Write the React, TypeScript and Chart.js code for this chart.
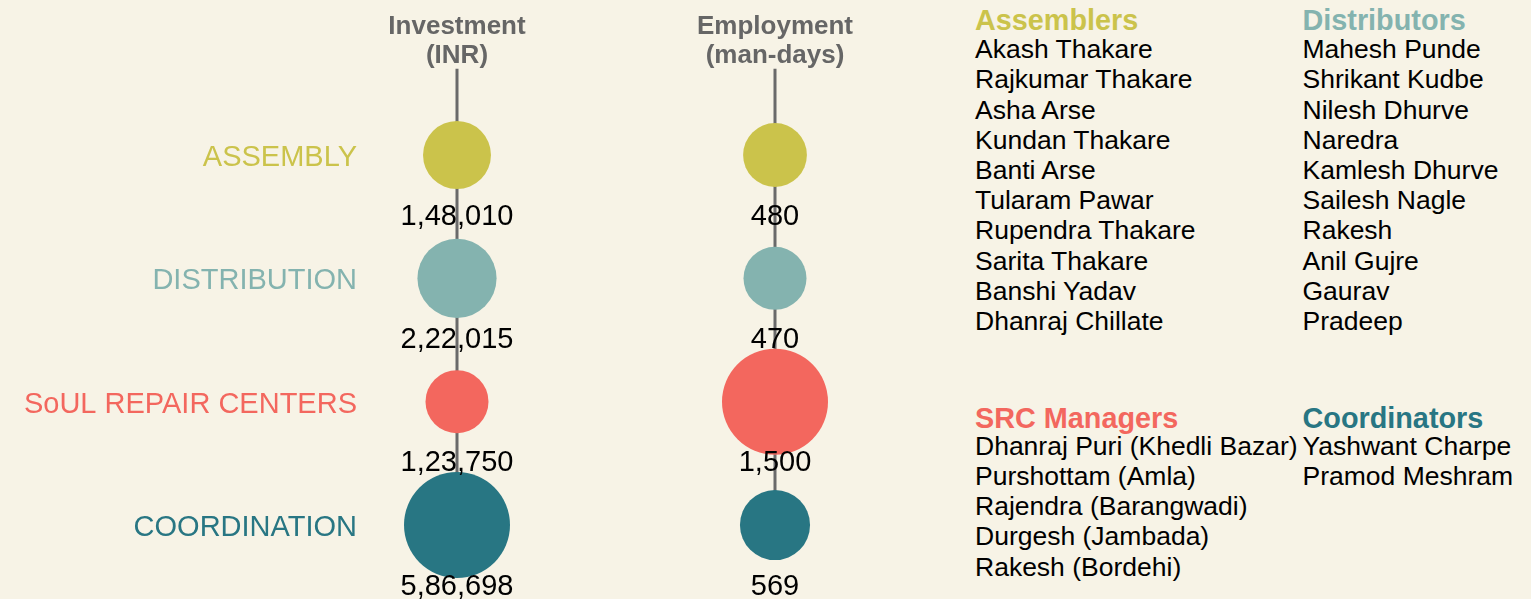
import React, { useEffect, useRef } from "react";
import { Chart, registerables } from "chart.js";

Chart.register(...registerables);

// ---------- data ----------
const rowLabels = ["ASSEMBLY", "DISTRIBUTION", "SoUL REPAIR CENTERS", "COORDINATION"];
const rowColors = ["#CBC34B", "#84B3AF", "#F3675E", "#287683"];
const columnTitles = [
  ["Investment", "(INR)"],
  ["Employment", "(man-days)"],
];
const investment = [148010, 222015, 123750, 586698];
const employment = [480, 470, 1500, 569];

const assemblers = [
  "Akash Thakare",
  "Rajkumar Thakare",
  "Asha Arse",
  "Kundan Thakare",
  "Banti Arse",
  "Tularam Pawar",
  "Rupendra Thakare",
  "Sarita Thakare",
  "Banshi Yadav",
  "Dhanraj Chillate",
];
const distributors = [
  "Mahesh Punde",
  "Shrikant Kudbe",
  "Nilesh Dhurve",
  "Naredra",
  "Kamlesh Dhurve",
  "Sailesh Nagle",
  "Rakesh",
  "Anil Gujre",
  "Gaurav",
  "Pradeep",
];
const srcManagers = [
  "Dhanraj Puri (Khedli Bazar)",
  "Purshottam (Amla)",
  "Rajendra (Barangwadi)",
  "Durgesh (Jambada)",
  "Rakesh (Bordehi)",
];
const coordinators = ["Yashwant Charpe", "Pramod Meshram"];

// ---------- helpers ----------
const FONT = "'Liberation Sans', Arial, Helvetica, sans-serif";
const BG = "#F7F3E6";

function formatIndian(v: number): string {
  const s = String(Math.round(v));
  if (s.length <= 3) return s;
  const last3 = s.slice(-3);
  let rest = s.slice(0, -3);
  const parts: string[] = [];
  while (rest.length > 2) {
    parts.unshift(rest.slice(-2));
    rest = rest.slice(0, -2);
  }
  if (rest.length) parts.unshift(rest);
  return parts.join(",") + "," + last3;
}

// log-scaled bubble radius within each column
function radiusFor(v: number, all: number[]): number {
  const lo = Math.log(Math.min(...all));
  const hi = Math.log(Math.max(...all));
  return 31.5 + 21.5 * ((Math.log(v) - lo) / (hi - lo));
}

const columns = [investment, employment];

const decorPlugin = {
  id: "decor",
  beforeDatasetsDraw(chart: any) {
    const { ctx, scales } = chart;
    const x = scales.x;
    const y = scales.y;
    ctx.save();
    ctx.strokeStyle = "#6A6A6A";
    ctx.lineWidth = 3;
    columns.forEach((_, c) => {
      const px = x.getPixelForValue(c);
      ctx.beginPath();
      ctx.moveTo(px, y.getPixelForValue(-0.7));
      ctx.lineTo(px, y.getPixelForValue(rowLabels.length - 1));
      ctx.stroke();
    });
    ctx.restore();
  },
  afterDatasetsDraw(chart: any) {
    const { ctx, scales, chartArea } = chart;
    const x = scales.x;
    const y = scales.y;
    ctx.save();
    // column titles
    ctx.fillStyle = "#666666";
    ctx.font = `bold 26px ${FONT}`;
    ctx.textAlign = "center";
    ctx.textBaseline = "middle";
    columnTitles.forEach((lines, c) => {
      const px = x.getPixelForValue(c);
      lines.forEach((t, i) => {
        ctx.fillText(t, px, chartArea.top - 4.5 + i * 29);
      });
    });
    // row labels
    ctx.font = `29px ${FONT}`;
    ctx.textAlign = "right";
    rowLabels.forEach((lab, r) => {
      ctx.fillStyle = rowColors[r];
      ctx.fillText(lab, x.getPixelForValue(0) - 100, y.getPixelForValue(r) + 3);
    });
    // value labels
    ctx.fillStyle = "#000000";
    ctx.textAlign = "center";
    columns.forEach((vals, c) => {
      const px = x.getPixelForValue(c);
      vals.forEach((v, r) => {
        ctx.fillText(formatIndian(v), px, y.getPixelForValue(r + 0.5));
      });
    });
    ctx.restore();
  },
};

type Block = { title: string; color: string; names: string[]; left: number; headY: number; firstY: number };

export default function App() {
  const canvasRef = useRef<HTMLCanvasElement | null>(null);

  useEffect(() => {
    document.body.style.margin = "0";
    document.body.style.background = BG;
    const canvas = canvasRef.current;
    if (!canvas) return;
    const chart = new Chart(canvas, {
      type: "bubble",
      data: {
        datasets: [
          {
            label: "Investment (INR)",
            data: investment.map((v, i) => ({ x: 0, y: i, r: radiusFor(v, investment) })),
            backgroundColor: rowColors,
            borderWidth: 0,
            hoverBorderWidth: 0,
            hoverRadius: 0,
            clip: false,
          } as any,
          {
            label: "Employment (man-days)",
            data: employment.map((v, i) => ({ x: 1, y: i, r: radiusFor(v, employment) })),
            backgroundColor: rowColors,
            borderWidth: 0,
            hoverBorderWidth: 0,
            hoverRadius: 0,
            clip: false,
          } as any,
        ],
      },
      options: {
        responsive: false,
        animation: false,
        events: [],
        layout: { autoPadding: false, padding: { left: 139, right: 26, top: 31.67, bottom: 12.33 } },
        scales: {
          x: { type: "linear", min: -1, max: 1.5, display: false },
          y: { type: "linear", min: -1, max: 3.5, reverse: true, display: false },
        },
        plugins: { legend: { display: false }, tooltip: { enabled: false } },
      } as any,
      plugins: [decorPlugin],
    });
    return () => chart.destroy();
  }, []);

  const blocks: Block[] = [
    { title: "Assemblers", color: rowColors[0], names: assemblers, left: 975, headY: 19.7, firstY: 49.2 },
    { title: "Distributors", color: rowColors[1], names: distributors, left: 1302.5, headY: 19.7, firstY: 49.2 },
    { title: "SRC Managers", color: rowColors[2], names: srcManagers, left: 975, headY: 417.8, firstY: 445.8 },
    { title: "Coordinators", color: rowColors[3], names: coordinators, left: 1302.5, headY: 417.8, firstY: 445.8 },
  ];
  const lineStyle = (top: number, left: number): React.CSSProperties => ({
    position: "absolute",
    top: top - 15,
    left,
    height: 30,
    lineHeight: "30px",
    whiteSpace: "nowrap",
    fontFamily: FONT,
  });

  return (
    <div
      style={{
        position: "absolute",
        left: 0,
        top: 0,
        width: 1531,
        height: 599,
        background: BG,
        overflow: "hidden",
      }}
    >
      <canvas
        ref={canvasRef}
        width={960}
        height={599}
        style={{ position: "absolute", left: 0, top: 0, width: 960, height: 599 }}
      />
      {blocks.map((b) => (
        <React.Fragment key={b.title}>
          <div style={{ ...lineStyle(b.headY, b.left), color: b.color, fontWeight: "bold", fontSize: 28.8 }}>
            {b.title}
          </div>
          {b.names.map((n, i) => (
            <div key={n + i} style={{ ...lineStyle(b.firstY + i * 30.2, b.left), color: "#000", fontSize: 26.5 }}>
              {n}
            </div>
          ))}
        </React.Fragment>
      ))}
    </div>
  );
}
